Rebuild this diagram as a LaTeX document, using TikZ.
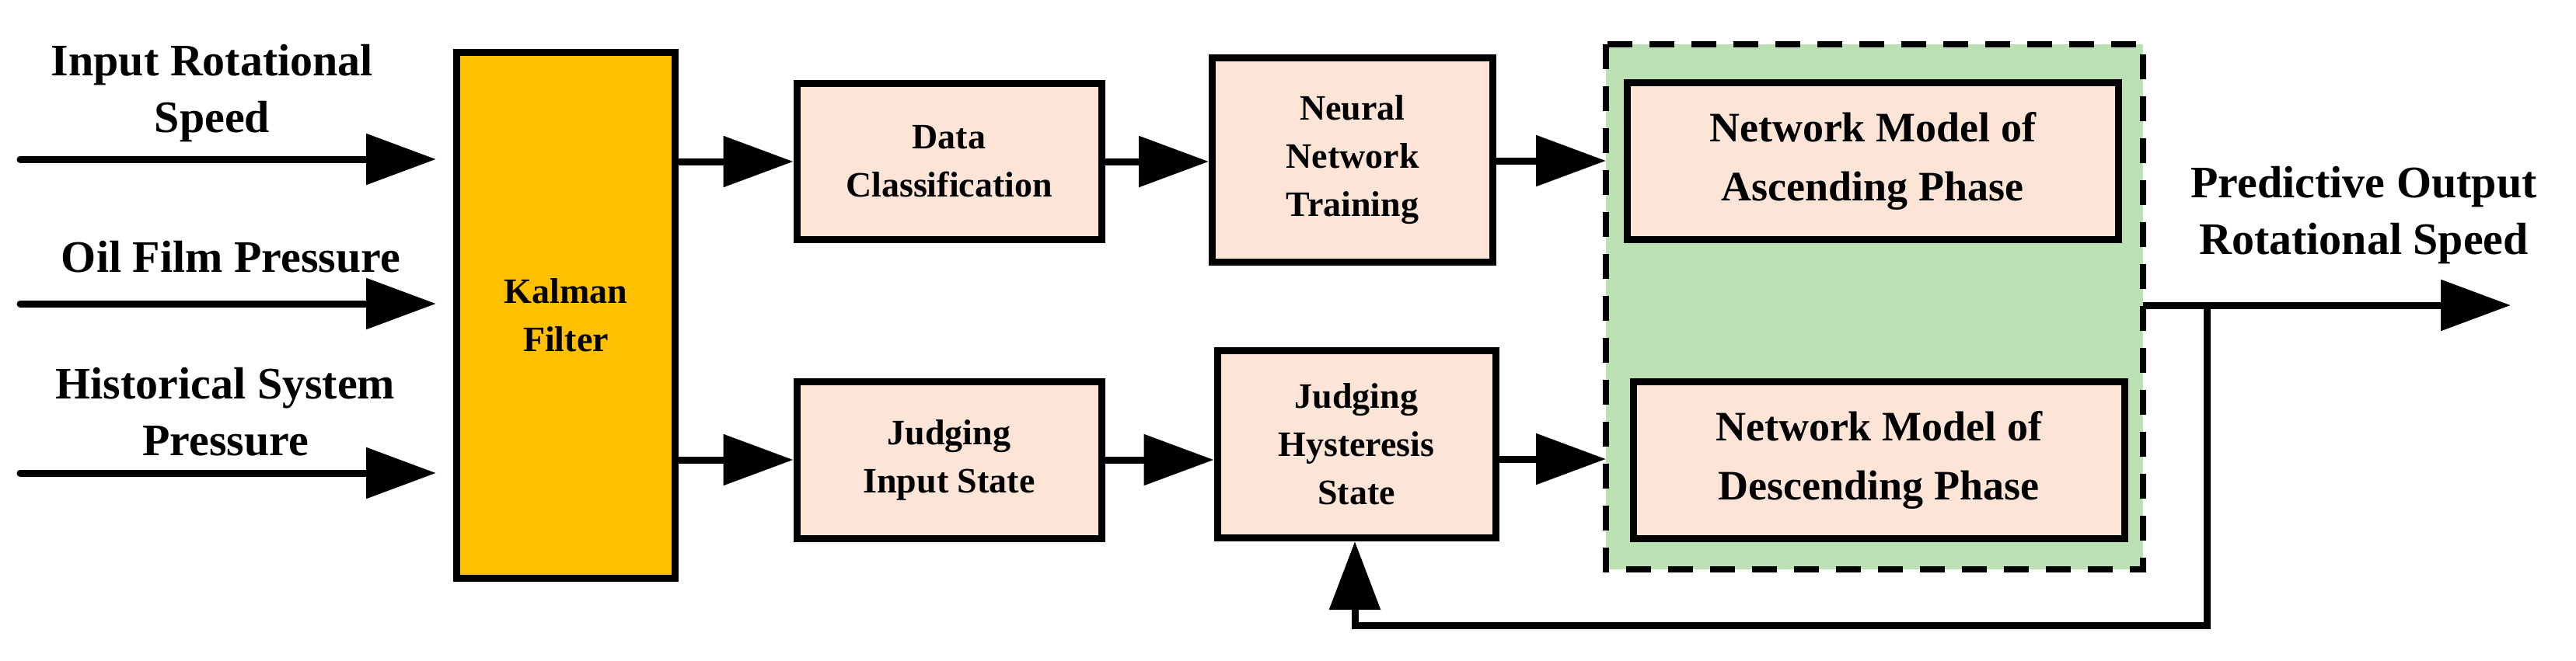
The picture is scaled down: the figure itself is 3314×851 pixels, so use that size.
\documentclass[tikz,border=0pt]{standalone}
\usepackage{fontspec}
\setmainfont{Liberation Serif}
\usetikzlibrary{arrows.meta}
\definecolor{kal}{HTML}{FFC000}
\definecolor{pch}{HTML}{FCE4D6}
\definecolor{grn}{HTML}{BBE0B4}
\begin{document}
\begin{tikzpicture}[x=1pt,y=-1pt,
  box/.style={draw,line width=9pt,fill=pch,font=\fontsize{46}{62}\selectfont\bfseries,align=center,inner sep=0},
  big/.style={box,font=\fontsize{54}{76}\selectfont\bfseries},
  lab/.style={font=\fontsize{58}{73}\selectfont\bfseries,align=center},
  arr/.style={line width=9pt,-{Triangle[length=90pt,width=64pt]}}]
\useasboundingbox (0,0) rectangle (3314,851);
\fill[grn] (2066,57) rectangle (2757,733);
\draw[line width=8pt,dash pattern=on 32pt off 22pt] (2066,57) rectangle (2757,733);
\node[box,fill=kal,minimum width=281pt,minimum height=677pt] (k) at (728,406) {Kalman\\Filter};
\node[box,minimum width=392pt,minimum height=201pt] (dc) at (1221,208) {Data\\Classification};
\node[box,minimum width=392pt,minimum height=202pt] (ji) at (1221,592) {Judging\\Input State};
\node[box,minimum width=361pt,minimum height=263pt] (nn) at (1740,206) {Neural\\Network\\Training};
\node[box,minimum width=358pt,minimum height=241pt] (jh) at (1745,572) {Judging\\Hysteresis\\State};
\node[big,minimum width=632pt,minimum height=202pt] (asc) at (2409,207) {Network Model of\\Ascending Phase};
\node[big,minimum width=632pt,minimum height=202pt] (des) at (2417,592) {Network Model of\\Descending Phase};
\coordinate (g1) at (2066,207);
\coordinate (g2) at (2066,591);
\coordinate (o0) at (2757,393);
\coordinate (o1) at (3230,393);
\coordinate (b) at (2839,393);
\coordinate (in1) at (26,205);
\coordinate (in2) at (26,391);
\coordinate (in3) at (26,609);
\draw[arr,line cap=round] (in1) -- (561,205);
\draw[arr,line cap=round] (in2) -- (561,391);
\draw[arr,line cap=round] (in3) -- (561,609);
\draw[arr] (k.east|-dc) -- (dc.west);
\draw[arr] (k.east|-ji) -- (ji.west);
\draw[arr] (dc.east) -- (nn.west|-dc.east);
\draw[arr] (ji.east) -- (jh.west|-ji.east);
\draw[arr] (nn.east|-g1) -- (g1);
\draw[arr] (jh.east|-g2) -- (g2);
\draw[arr] (o0) -- (o1);
\draw[line width=9pt,-{Triangle[length=88pt,width=64pt]}] (b) -- (2839,805) -- (1743,805) -- (jh.south-|1743,0);
\node[lab] (t1) at (273,120) {Input Rotational\\Speed};
\node[lab] (t2) at (297,331) {Oil Film Pressure};
\node[lab] (t3) at (290,530) {Historical System\\Pressure};
\node[lab] (t4) at (3041,277) {Predictive Output\\Rotational Speed};
\end{tikzpicture}
\end{document}
